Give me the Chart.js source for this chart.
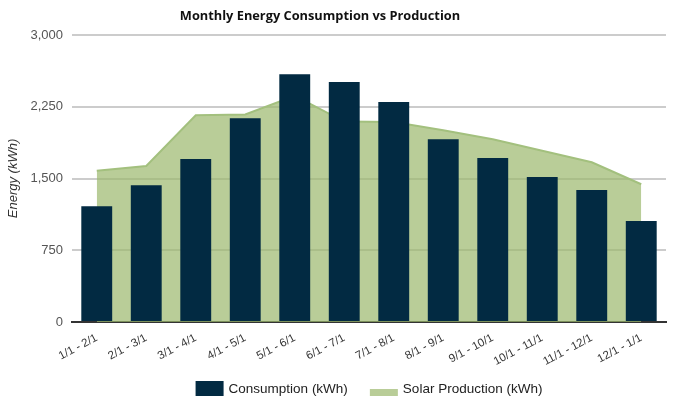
<!DOCTYPE html>
<html>
<head>
<meta charset="utf-8">
<title>Monthly Energy Consumption vs Production</title>
<script src="https://cdn.jsdelivr.net/npm/chart.js@4.4.0/dist/chart.umd.min.js"></script>
<style>
    html, body { margin: 0; padding: 0; background: #fff; }
    #wrap { position: relative; width: 680px; height: 406px; }
</style>
</head>
<body>
<div id="wrap"><canvas id="energyChart"></canvas></div>
<script>
// values
const monthLabels = ['1/1 - 2/1', '2/1 - 3/1', '3/1 - 4/1', '4/1 - 5/1', '5/1 - 6/1', '6/1 - 7/1',
    '7/1 - 8/1', '8/1 - 9/1', '9/1 - 10/1', '10/1 - 11/1', '11/1 - 12/1', '12/1 - 1/1'];
const consumptionKwh = [1210, 1430, 1705, 2130, 2590, 2510, 2300, 1910, 1715, 1515, 1380, 1055];
const solarKwh = [1580, 1630, 2160, 2170, 2365, 2095, 2090, 2005, 1910, 1790, 1670, 1440];
const yTicks = [0, 750, 1500, 2250, 3000];

const FONT = '"Liberation Sans", Arial, sans-serif';
const NAVY = '#022a42';
const GREEN_FILL = 'rgba(155, 184, 108, 0.7)';
const GREEN_LINE = '#a3c07e';
const GREEN_KEY = '#b9cd98';

const titlePlugin = {
    id: 'topTitle',
    afterDraw(chart) {
        const ctx = chart.ctx;
        ctx.save();
        ctx.font = 'bold 12.8px "Open Sans", sans-serif';
        ctx.fillStyle = '#111';
        ctx.textAlign = 'center';
        ctx.textBaseline = 'middle';
        ctx.fillText('Monthly Energy Consumption vs Production', 320, 16);
        ctx.restore();
    }
};

const legendPlugin = {
    id: 'bottomLegend',
    afterDraw(chart) {
        const ctx = chart.ctx;
        const items = chart.data.datasets.map(ds => ({
            text: ds.label,
            color: ds.type === 'line' ? GREEN_KEY : NAVY,
            flat: ds.type === 'line'
        }));
        ctx.save();
        ctx.font = `13.5px ${FONT}`;
        ctx.textBaseline = 'middle';
        const boxW = 28, gap = 5, itemGap = 22;
        let total = 0;
        items.forEach((it, i) => {
            it.w = ctx.measureText(it.text).width;
            total += boxW + gap + it.w + (i > 0 ? itemGap : 0);
        });
        const area = chart.chartArea;
        let x = (area.left + area.right) / 2 - total / 2;
        const midY = 389;
        items.forEach(it => {
            ctx.fillStyle = it.color;
            if (it.flat) ctx.fillRect(x, midY, boxW, 7);
            else ctx.fillRect(x, midY - 8, boxW, 15);
            x += boxW + gap;
            ctx.fillStyle = '#222';
            ctx.fillText(it.text, x, midY);
            x += it.w + itemGap;
        });
        ctx.restore();
    }
};

const ctx = document.getElementById('energyChart').getContext('2d');
const energyChart = new Chart(ctx, {
    type: 'bar',
    data: {
        labels: monthLabels,
        datasets: [
            {
                type: 'bar',
                label: 'Consumption (kWh)',
                data: consumptionKwh,
                backgroundColor: NAVY,
                categoryPercentage: 0.8,
                barPercentage: 0.78,
                order: 0
            },
            {
                type: 'line',
                label: 'Solar Production (kWh)',
                data: solarKwh,
                borderColor: GREEN_LINE,
                backgroundColor: GREEN_FILL,
                borderWidth: 2,
                pointRadius: 0,
                tension: 0,
                fill: 'origin',
                order: 1
            }
        ]
    },
    options: {
        responsive: true,
        maintainAspectRatio: false,
        animation: false,
        layout: { padding: { top: 35, right: 14, bottom: 0, left: 0 } },
        plugins: {
            legend: { display: false },
            title: { display: false },
            tooltip: { enabled: false }
        },
        scales: {
            x: {
                grid: { display: false, drawTicks: false },
                border: { display: true, color: '#333', width: 2 },
                ticks: {
                    color: '#333',
                    font: { family: FONT, size: 11.5 },
                    minRotation: 28,
                    maxRotation: 28,
                    padding: 9,
                    autoSkip: false
                },
                afterFit(scale) { scale.height = 84; }
            },
            y: {
                min: 0,
                max: 3000,
                afterBuildTicks(scale) { scale.ticks = yTicks.map(v => ({ value: v })); },
                grid: { color: '#cccccc', lineWidth: 2, drawTicks: false },
                border: { display: false },
                ticks: {
                    color: '#555',
                    padding: 9,
                    font: { family: FONT, size: 13 },
                    callback: v => v.toLocaleString('en-US')
                },
                title: {
                    display: true,
                    text: 'Energy (kWh)',
                    color: '#333',
                    font: { family: FONT, size: 13, style: 'italic' },
                    padding: { top: 6, bottom: 0 }
                },
                afterFit(scale) { scale.width = 72; }
            }
        }
    },
    plugins: [titlePlugin, legendPlugin]
});
</script>
</body>
</html>
